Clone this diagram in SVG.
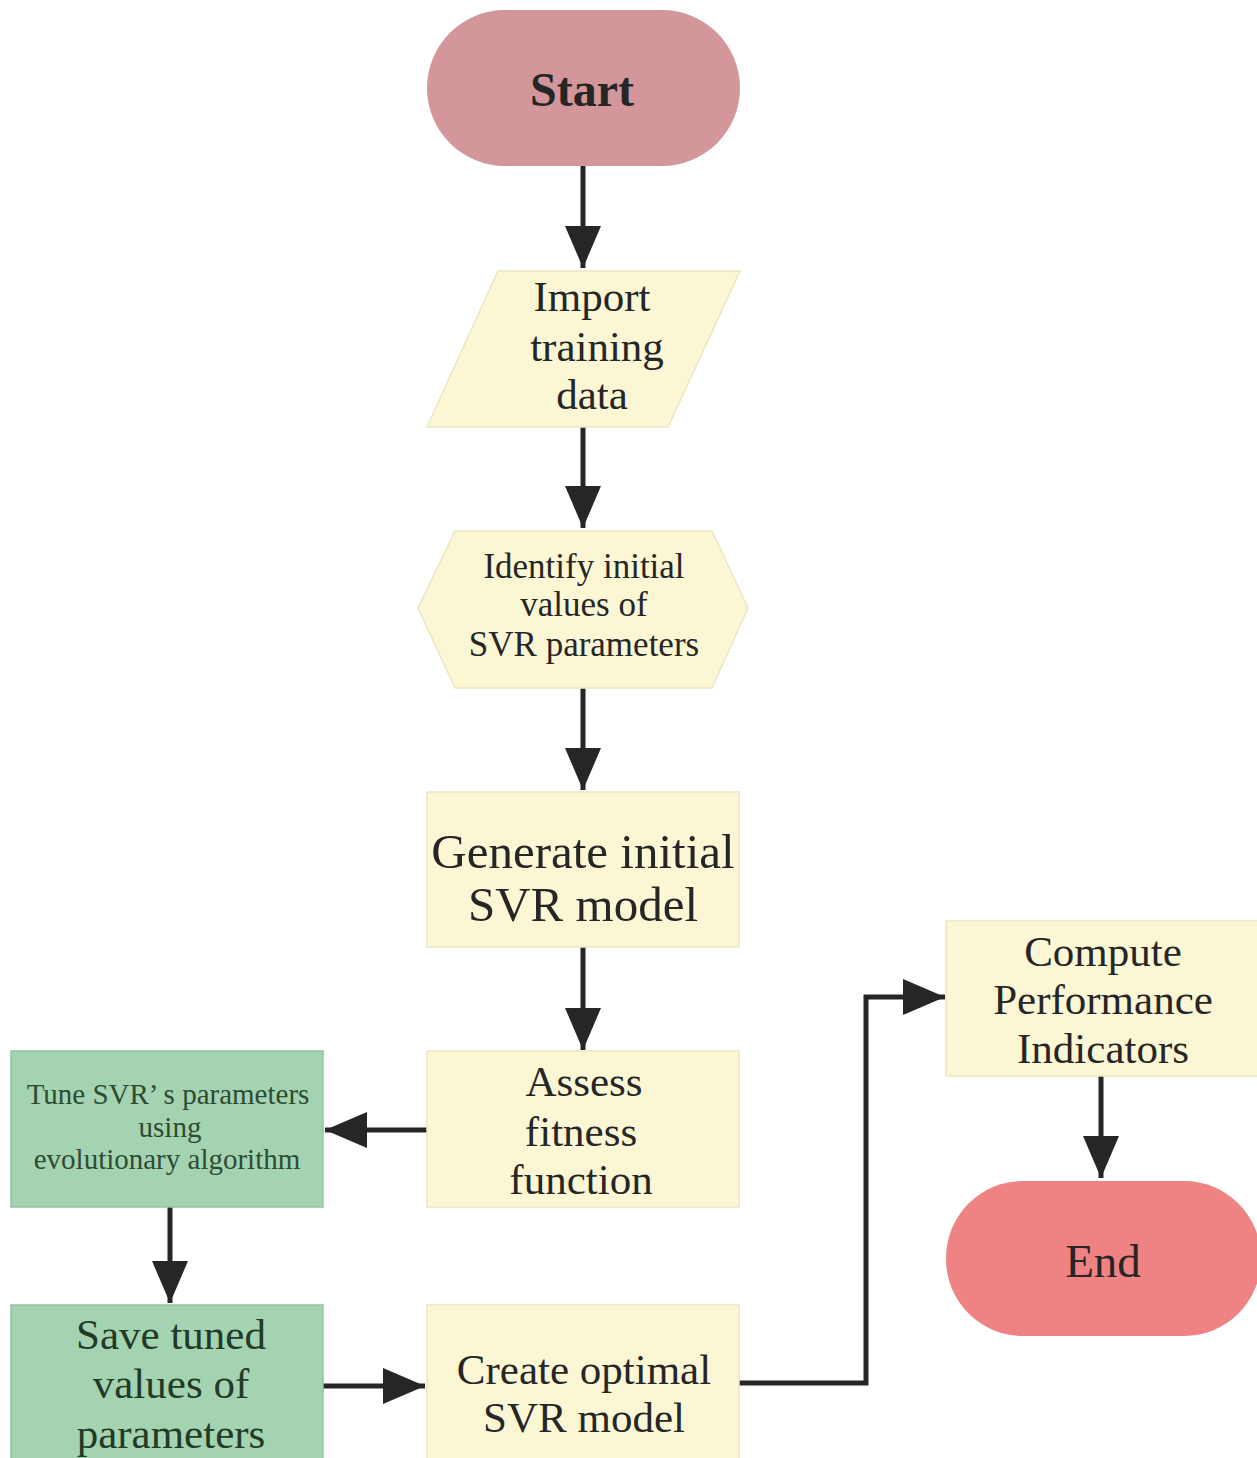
<svg xmlns="http://www.w3.org/2000/svg" width="1257" height="1458" viewBox="0 0 1257 1458">
<style>
.box{fill:#fbf6d3;stroke:#ece6c2;stroke-width:1.5}
.green{fill:#a3d3b0;stroke:#93c3a0;stroke-width:1.5}
.t{fill:#262626;text-anchor:middle}
.conn{fill:none;stroke:#262626;stroke-width:5}
</style>
<defs>
<marker id="a" markerUnits="userSpaceOnUse" markerWidth="42" markerHeight="40" viewBox="0 0 42 40" refX="42" refY="20" orient="auto">
<path d="M0,2 L42,20 L0,38 Z" fill="#262626"/>
</marker>
</defs>
<rect width="1257" height="1458" fill="#ffffff"/>
<g id="connectors">
<path class="conn" d="M583,166 V268" marker-end="url(#a)"/>
<path class="conn" d="M583,427 V528" marker-end="url(#a)"/>
<path class="conn" d="M583,688 V790" marker-end="url(#a)"/>
<path class="conn" d="M583,947 V1050" marker-end="url(#a)"/>
<path class="conn" d="M427,1130 H325" marker-end="url(#a)"/>
<path class="conn" d="M170,1207 V1303" marker-end="url(#a)"/>
<path class="conn" d="M323,1386 H425" marker-end="url(#a)"/>
<path class="conn" d="M739,1383 H866 V997 H945" marker-end="url(#a)"/>
<path class="conn" d="M1101,1076 V1178" marker-end="url(#a)"/>
</g>
<g font-family="'Liberation Serif', 'Times New Roman', Times, serif">
<g id="start">
<rect x="427" y="10" width="313" height="156" rx="78" ry="78" fill="#d3969b"/>
<text class="t" x="582" y="106" font-size="48" font-weight="bold">Start</text>
</g>
<g id="import">
<polygon class="box" points="498,271 740,271 668,427 427,427"/>
<text class="t" x="592" y="311" font-size="43">Import</text>
<text class="t" x="597" y="361" font-size="43">training</text>
<text class="t" x="592" y="409" font-size="43">data</text>
</g>
<g id="identify">
<polygon class="box" points="455,531 712,531 748,608 712,688 455,688 418,608"/>
<text class="t" x="584" y="578" font-size="35">Identify initial</text>
<text class="t" x="584" y="616" font-size="35">values of</text>
<text class="t" x="584" y="656" font-size="35">SVR parameters</text>
</g>
<g id="generate">
<rect class="box" x="427" y="792" width="312" height="155"/>
<text class="t" x="583" y="868" font-size="49">Generate initial</text>
<text class="t" x="583" y="921" font-size="49">SVR model</text>
</g>
<g id="assess">
<rect class="box" x="427" y="1051" width="312" height="156"/>
<text class="t" x="584" y="1096" font-size="43">Assess</text>
<text class="t" x="581" y="1146" font-size="43">fitness</text>
<text class="t" x="581" y="1194" font-size="43">function</text>
</g>
<g id="tune">
<rect class="green" x="11" y="1051" width="312" height="156"/>
<text class="t" x="168" y="1104" font-size="29" style="fill:#2e4b35">Tune SVR’ s parameters</text>
<text class="t" x="170" y="1137" font-size="29" style="fill:#2e4b35">using</text>
<text class="t" x="167" y="1169" font-size="29" style="fill:#2e4b35">evolutionary algorithm</text>
</g>
<g id="save">
<rect class="green" x="11" y="1305" width="312" height="160"/>
<text class="t" x="171" y="1349" font-size="43" style="fill:#223a28">Save tuned</text>
<text class="t" x="171" y="1398" font-size="43" style="fill:#223a28">values of</text>
<text class="t" x="171" y="1448" font-size="43" style="fill:#223a28">parameters</text>
</g>
<g id="create">
<rect class="box" x="427" y="1305" width="312" height="160"/>
<text class="t" x="584" y="1384" font-size="43">Create optimal</text>
<text class="t" x="584" y="1432" font-size="43">SVR model</text>
</g>
<g id="compute">
<rect class="box" x="946" y="921" width="315" height="155"/>
<text class="t" x="1103" y="966" font-size="43">Compute</text>
<text class="t" x="1103" y="1014" font-size="43">Performance</text>
<text class="t" x="1103" y="1063" font-size="43">Indicators</text>
</g>
<g id="end">
<rect x="946" y="1181" width="315" height="155" rx="77" ry="77" fill="#ef8282"/>
<text class="t" x="1103" y="1277" font-size="47">End</text>
</g>
</g>
</svg>
